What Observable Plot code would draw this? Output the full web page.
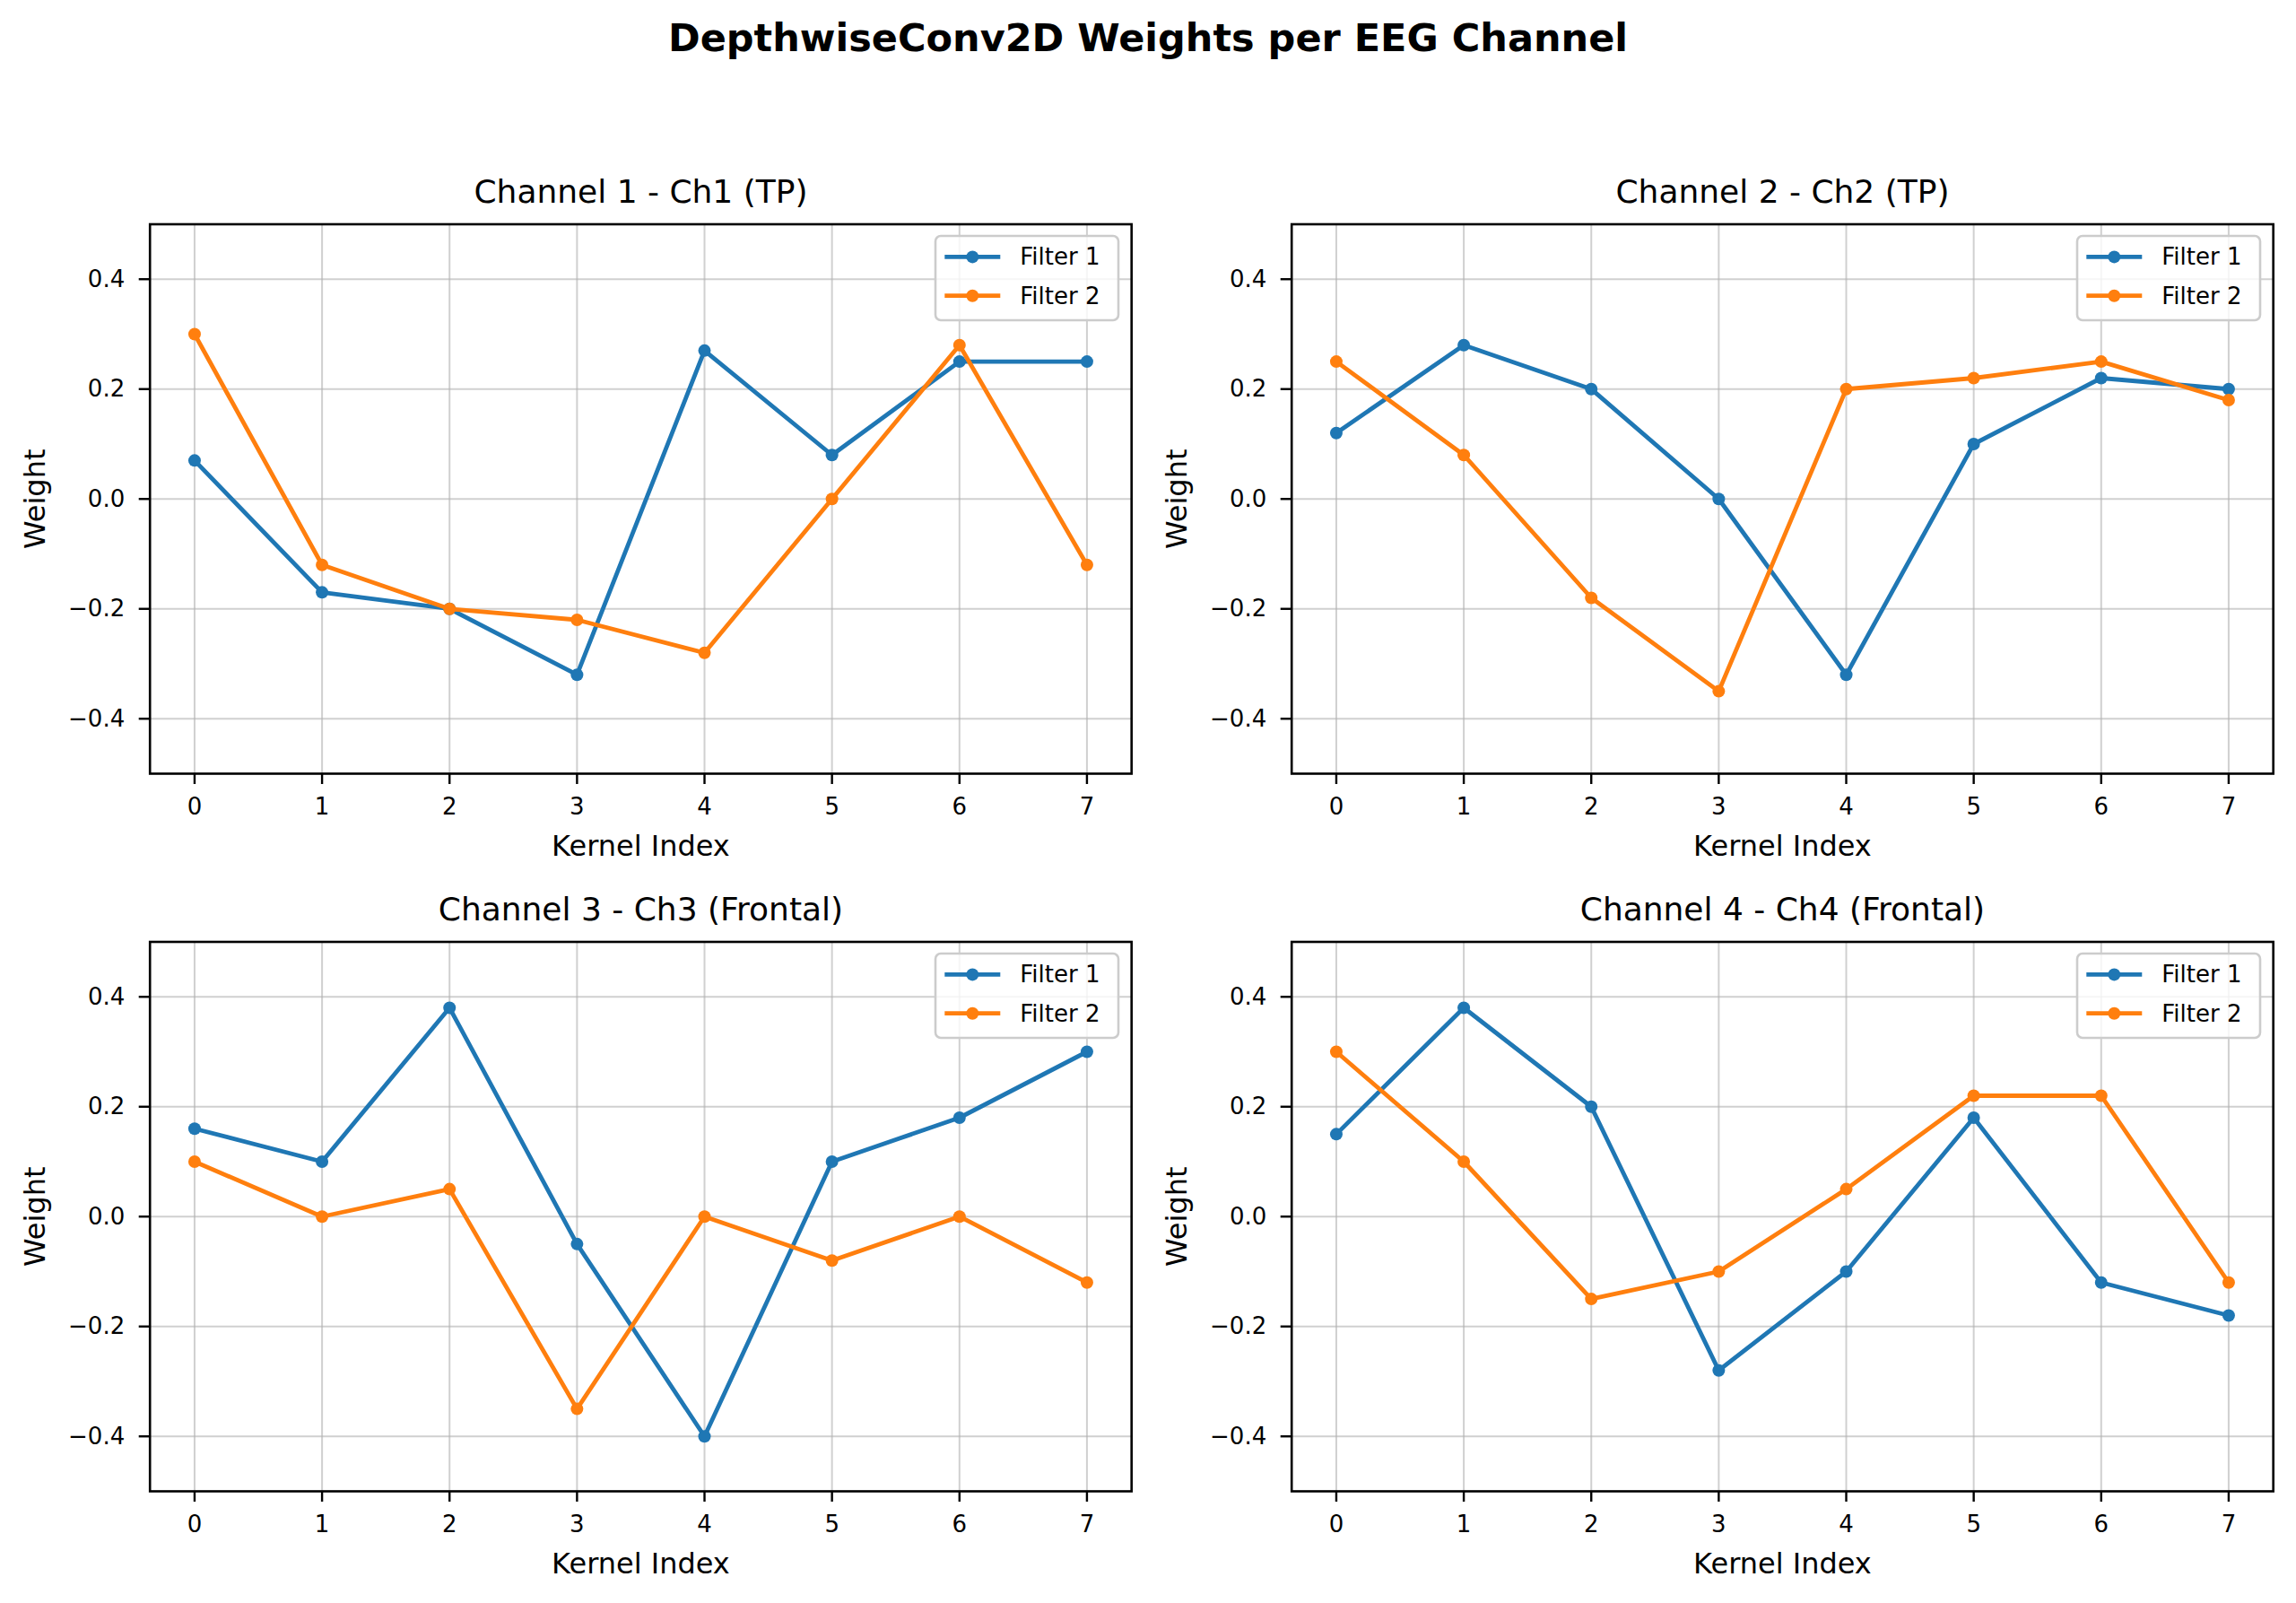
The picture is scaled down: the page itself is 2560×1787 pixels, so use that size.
<!DOCTYPE html>
<html><head><meta charset="utf-8">
<script src="https://cdn.jsdelivr.net/npm/d3@7"></script>
<script src="https://cdn.jsdelivr.net/npm/@observablehq/plot@0.6"></script>
<style>
html,body{margin:0;padding:0;background:#fff;}
#fig{position:relative;width:2560px;height:1787px;background:#fff;font-family:"DejaVu Sans",sans-serif;overflow:hidden;}
</style></head><body><div id="fig"></div>
<script>
// ---------- data ----------
const suptitle = "DepthwiseConv2D Weights per EEG Channel";
const channelTitles = ["Channel 1 - Ch1 (TP)", "Channel 2 - Ch2 (TP)", "Channel 3 - Ch3 (Frontal)", "Channel 4 - Ch4 (Frontal)"];
const xLabel = "Kernel Index";
const yLabel = "Weight";
const kernelIndex = [0, 1, 2, 3, 4, 5, 6, 7];
const yTicks = [-0.4, -0.2, 0.0, 0.2, 0.4];
const filterNames = ["Filter 1", "Filter 2"];
const filterColors = ["#1f77b4", "#ff7f0e"];

const ch1Filter1 = [0.07, -0.17, -0.20, -0.32, 0.27, 0.08, 0.25, 0.25];
const ch1Filter2 = [0.30, -0.12, -0.20, -0.22, -0.28, 0.00, 0.28, -0.12];
const ch2Filter1 = [0.12, 0.28, 0.20, 0.00, -0.32, 0.10, 0.22, 0.20];
const ch2Filter2 = [0.25, 0.08, -0.18, -0.35, 0.20, 0.22, 0.25, 0.18];
const ch3Filter1 = [0.16, 0.10, 0.38, -0.05, -0.40, 0.10, 0.18, 0.30];
const ch3Filter2 = [0.10, 0.00, 0.05, -0.35, 0.00, -0.08, 0.00, -0.12];
const ch4Filter1 = [0.15, 0.38, 0.20, -0.28, -0.10, 0.18, -0.12, -0.18];
const ch4Filter2 = [0.30, 0.10, -0.15, -0.10, 0.05, 0.22, 0.22, -0.12];

const channels = [
  [ch1Filter1, ch1Filter2],
  [ch2Filter1, ch2Filter2],
  [ch3Filter1, ch3Filter2],
  [ch4Filter1, ch4Filter2]
];

// ---------- layout ----------
const fig = document.getElementById("fig");
const PW = 1094.5, PH = 612.5;
const panelPos = [
  {left: 166.7, top: 249.5}, {left: 1440, top: 249.5},
  {left: 166.7, top: 1049.5}, {left: 1440, top: 1049.5}
];
const ML = 166.7, MR = 18;
const FONT = "DejaVu Sans";
const fmtY = d => d.toFixed(1).replace("-", "\u2212");

// suptitle
const st = d3.select(fig).append("svg")
  .attr("width", 2560).attr("height", 90)
  .style("position", "absolute").style("left", "0px").style("top", "0px");
st.append("text").attr("x", 1280).attr("y", 57).attr("text-anchor", "middle")
  .attr("font-family", FONT).attr("font-weight", "bold").attr("font-size", 43)
  .attr("fill", "black").text(suptitle);

channels.forEach((series, i) => {
  const p = panelPos[i];
  const topRow = i < 2;
  const svgTop = topRow ? 150 : 990;
  const H = topRow ? 840 : 797;
  const MT = p.top - svgTop;
  const MB = H - MT - PH;
  const W = ML + PW + MR;

  const rows = [];
  series.forEach((vals, f) => vals.forEach((v, k) => rows.push({k: kernelIndex[k], w: v, filter: filterNames[f]})));

  const marks = [
    Plot.gridX(kernelIndex, {stroke: "#b0b0b0", strokeOpacity: 0.6, strokeWidth: 2}),
    Plot.gridY(yTicks, {stroke: "#b0b0b0", strokeOpacity: 0.6, strokeWidth: 2})
  ];
  filterNames.forEach((name, f) => {
    const d = rows.filter(r => r.filter === name);
    marks.push(Plot.line(d, {x: "k", y: "w", stroke: filterColors[f], strokeWidth: 4.8}));
    marks.push(Plot.dot(d, {x: "k", y: "w", fill: filterColors[f], r: 7}));
  });
  marks.push(
    Plot.axisX(kernelIndex, {tickSize: 12, tickPadding: 15, fontSize: 26, stroke: "black", strokeWidth: 2.4, fill: "black", label: null, tickFormat: d => String(d)}),
    Plot.axisY(yTicks, {tickSize: 12, tickPadding: 16, fontSize: 26, stroke: "black", strokeWidth: 2.4, fill: "black", label: null, tickFormat: fmtY}),
    Plot.frame({stroke: "black", strokeWidth: 2.6}),
    Plot.text([channelTitles[i]], {text: d => d, frameAnchor: "top", lineAnchor: "bottom", dy: -23.5, fontSize: 36, fill: "black"}),
    Plot.text([xLabel], {text: d => d, frameAnchor: "bottom", lineAnchor: "bottom", dy: 92, fontSize: 32, fill: "black"}),
    Plot.text([yLabel], {text: d => d, frameAnchor: "left", textAnchor: "middle", rotate: -90, lineAnchor: "middle", dx: -127, fontSize: 32, fill: "black"})
  );

  const chart = Plot.plot({
    width: W, height: H,
    marginLeft: ML, marginRight: MR, marginTop: MT, marginBottom: MB,
    x: {domain: [-0.35, 7.35]},
    y: {domain: [-0.5, 0.5]},
    style: {fontFamily: FONT, background: "none", overflow: "visible", maxWidth: "none", color: "black"},
    marks
  });
  chart.style.position = "absolute";
  chart.style.left = (p.left - ML) + "px";
  chart.style.top = svgTop + "px";
  fig.appendChild(chart);

  // legend (matplotlib-style, upper right inside axes)
  const lgW = 204, lgH = 94;
  const lg = d3.select(fig).append("svg")
    .attr("width", lgW + 4).attr("height", lgH + 4)
    .style("position", "absolute")
    .style("left", (p.left + PW - 218.5 - 2) + "px")
    .style("top", (p.top + 13.8 - 2) + "px");
  lg.append("rect").attr("x", 2).attr("y", 2).attr("width", lgW).attr("height", lgH)
    .attr("rx", 6).attr("fill", "white").attr("fill-opacity", 0.8)
    .attr("stroke", "#cccccc").attr("stroke-width", 2.6);
  filterNames.forEach((name, f) => {
    const cy = 2 + 23.4 + f * 43.3;
    lg.append("line").attr("x1", 12.3).attr("x2", 74.3).attr("y1", cy).attr("y2", cy)
      .attr("stroke", filterColors[f]).attr("stroke-width", 4.8);
    lg.append("circle").attr("cx", 43.3).attr("cy", cy).attr("r", 7).attr("fill", filterColors[f]);
    lg.append("text").attr("x", 96.3).attr("y", cy + 9).attr("font-family", FONT).attr("font-size", 26)
      .attr("fill", "black").text(name);
  });
});
</script></body></html>
